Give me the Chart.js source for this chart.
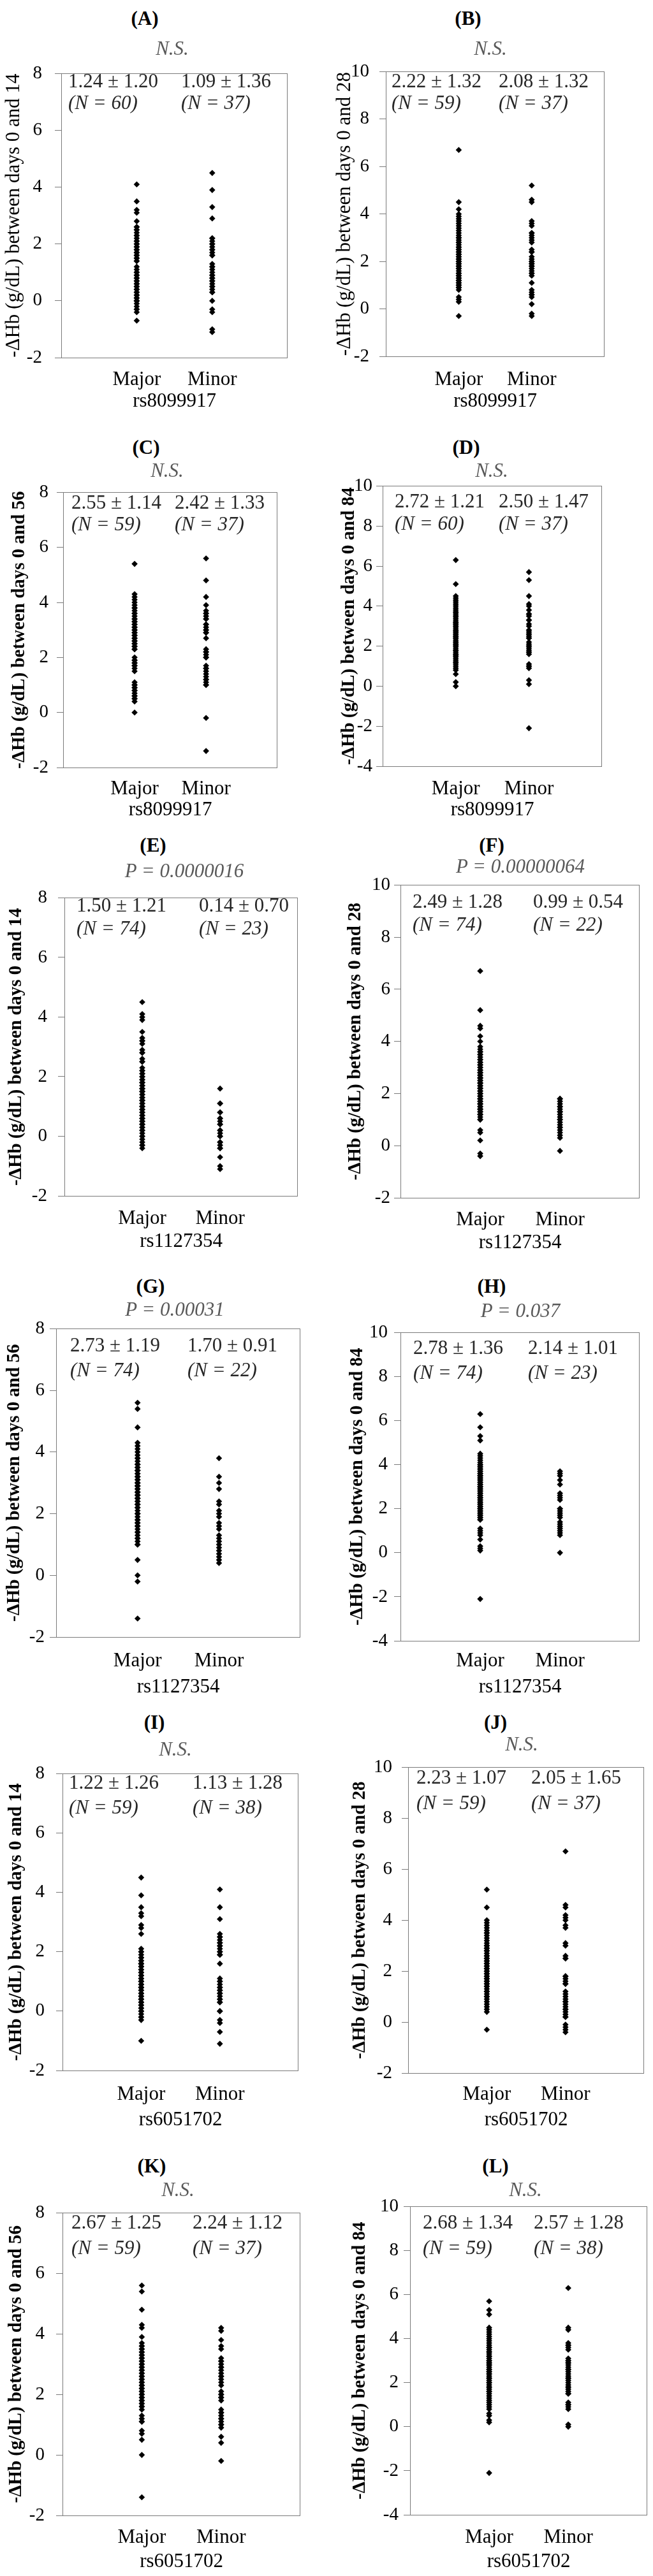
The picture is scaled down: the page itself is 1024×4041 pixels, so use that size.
<!DOCTYPE html>
<html>
<head>
<meta charset="utf-8">
<script src="https://cdn.jsdelivr.net/npm/chart.js@4.4.1/dist/chart.umd.min.js"></script>
<style>
html, body { margin: 0; padding: 0; background: #fff; }
#page { position: relative; width: 1024px; height: 4041px; overflow: hidden; font-family: "Liberation Serif", "Times New Roman", serif; }
canvas { position: absolute; }
.t { position: absolute; white-space: nowrap; font-size: 31px; line-height: 31px; color: #262626; }
.ttl { font-weight: bold; color: #000; transform: translateX(-50%); }
.sig { font-style: italic; color: #595959; transform: translateX(-50%); }
.n { font-style: italic; }
</style>
</head>
<body>
<div id="page"></div>
<script>
const FONT = '"Liberation Serif", "Times New Roman", serif';
const AXIS_COLOR = '#7a7a7a';

// ---- data ----
const GROUPS = ['Major', 'Minor'];
const PANEL_LETTERS = ['(A)', '(B)', '(C)', '(D)', '(E)', '(F)', '(G)', '(H)', '(I)', '(J)', '(K)', '(L)'];
const SNPS = ['rs8099917', 'rs8099917', 'rs8099917', 'rs8099917',
              'rs1127354', 'rs1127354', 'rs1127354', 'rs1127354',
              'rs6051702', 'rs6051702', 'rs6051702', 'rs6051702'];
const DAYS = [14, 28, 56, 84, 14, 28, 56, 84, 14, 28, 56, 84];
const SIGNIFICANCE = ['N.S.', 'N.S.', 'N.S.', 'N.S.',
                      'P = 0.0000016', 'P = 0.00000064', 'P = 0.00031', 'P = 0.037',
                      'N.S.', 'N.S.', 'N.S.', 'N.S.'];
const STATS_MAJOR = ['1.24 ± 1.20', '2.22 ± 1.32', '2.55 ± 1.14', '2.72 ± 1.21',
                     '1.50 ± 1.21', '2.49 ± 1.28', '2.73 ± 1.19', '2.78 ± 1.36',
                     '1.22 ± 1.26', '2.23 ± 1.07', '2.67 ± 1.25', '2.68 ± 1.34'];
const STATS_MINOR = ['1.09 ± 1.36', '2.08 ± 1.32', '2.42 ± 1.33', '2.50 ± 1.47',
                     '0.14 ± 0.70', '0.99 ± 0.54', '1.70 ± 0.91', '2.14 ± 1.01',
                     '1.13 ± 1.28', '2.05 ± 1.65', '2.24 ± 1.12', '2.57 ± 1.28'];
const N_MAJOR = [60, 59, 59, 60, 74, 74, 74, 74, 59, 59, 59, 59];
const N_MINOR = [37, 37, 37, 37, 23, 22, 22, 23, 38, 37, 37, 38];
const Y_MIN = [-2, -2, -2, -4, -2, -2, -2, -4, -2, -2, -2, -4];
const Y_MAX = [8, 10, 8, 10, 8, 10, 8, 10, 8, 10, 8, 10];

const A_MAJOR = [4.1, 3.5, 3.2, 3.1, 2.8, 2.6, 2.5, 2.4, 2.3, 2.2, 2.1, 2.0, 2.0, 1.9, 1.9, 1.8, 1.8, 1.7, 1.7, 1.6,
  1.5, 1.5, 1.4, 1.1, 1.0, 0.9, 0.8, 0.8, 0.7, 0.7, 0.6, 0.6, 0.5, 0.5, 0.4, 0.4, 0.3, 0.3, 0.2, 0.2,
  0.1, 0.1, 0.0, 0.0, -0.1, -0.2, -0.3, -0.4, -0.7, 2.6, 2.3, 2.1, 1.6, 1.4, 1.0, 0.9, 2.5, 1.2, 0.0, -0.3];
const A_MINOR = [4.5, 3.9, 3.3, 2.9, 2.2, 2.1, 2.0, 1.9, 1.8, 1.7, 1.6, 1.3, 1.2, 1.1, 1.0, 0.9, 0.8, 0.7, 0.6, 0.5,
  0.4, 0.3, 0.0, -0.3, -0.4, -1.0, -1.1, 2.2, 1.8, 1.2, 0.9, 0.8, 0.5, 0.3, 1.6, 2.0, 0.7];
const B_MAJOR = [6.7, 4.5, 4.2, 4.0, 3.9, 3.8, 3.7, 3.5, 3.4, 3.2, 3.1, 3.0, 2.9, 2.8, 2.7, 2.6, 2.5, 2.4, 2.3, 2.2,
  2.1, 2.0, 1.9, 1.8, 1.7, 1.6, 1.5, 1.4, 1.3, 1.2, 1.1, 1.0, 0.9, 0.8, 0.5, 0.4, 0.3, -0.3,
  3.0, 2.8, 2.5, 2.3, 2.2, 2.0, 1.9, 1.7, 1.5, 1.4, 1.2, 1.0, 3.6, 2.6, 2.1, 1.8, 1.3, 0.9, 3.3, 2.4, 1.1];
const B_MINOR = [5.2, 4.6, 4.5, 3.7, 3.6, 3.5, 3.2, 3.1, 3.0, 2.9, 2.8, 2.5, 2.4, 2.2, 2.1, 2.0, 1.9, 1.8, 1.7, 1.6,
  1.5, 1.4, 1.1, 0.8, 0.7, 0.6, 0.5, 0.2, -0.2, -0.3, 2.0, 1.8, 1.5, 2.4, 3.2, 0.6, 1.9];
const C_MAJOR = [5.4, 4.3, 4.2, 4.1, 3.9, 3.8, 3.7, 3.6, 3.5, 3.4, 3.3, 3.2, 3.1, 3.0, 2.9, 2.8, 2.7, 2.6, 2.5, 2.4,
  2.3, 2.0, 1.9, 1.8, 1.7, 1.6, 1.5, 1.1, 1.0, 0.9, 0.8, 0.7, 0.6, 0.5, 0.4, 0.0,
  3.3, 3.0, 2.8, 2.6, 2.4, 3.6, 3.2, 2.9, 2.5, 1.9, 1.8, 1.0, 0.8, 3.8, 3.4, 2.7, 0.6, 0.9, 3.1, 2.3, 1.7, 4.0, 0.5];
const C_MINOR = [5.6, 4.8, 4.2, 3.9, 3.7, 3.6, 3.5, 3.4, 3.2, 3.1, 3.0, 2.9, 2.7, 2.3, 2.2, 2.1, 2.0, 1.7, 1.6, 1.5,
  1.3, 1.2, 1.1, 1.0, -0.2, -1.4, 3.6, 3.2, 2.9, 2.2, 1.6, 1.2, 1.0, 3.4, 2.0, 1.4, 3.0];
const D_MAJOR = [6.3, 5.1, 4.5, 4.4, 4.3, 4.2, 4.1, 4.0, 3.9, 3.8, 3.7, 3.6, 3.5, 3.4, 3.3, 3.2, 3.1, 3.0, 2.9, 2.8,
  2.7, 2.6, 2.5, 2.4, 2.3, 2.2, 2.1, 2.0, 1.9, 1.8, 1.7, 1.6, 1.5, 1.4, 1.3, 1.2, 1.1, 1.0, 0.9, 0.8,
  0.6, 0.2, 0.0, 3.5, 3.2, 3.0, 2.8, 2.6, 2.4, 2.2, 2.0, 1.8, 1.6, 3.7, 3.1, 2.7, 2.5, 2.1, 1.5, 1.2];
const D_MINOR = [5.7, 5.3, 4.5, 4.1, 4.0, 3.8, 3.6, 3.5, 3.3, 3.1, 3.0, 2.8, 2.7, 2.6, 2.5, 2.4, 2.1, 2.0, 1.9, 1.8,
  1.7, 1.6, 1.1, 1.0, 0.9, 0.3, 0.1, -2.1, 3.3, 2.8, 2.6, 2.0, 1.7, 3.6, 2.4, 1.0, 2.2];
const E_MAJOR = [4.5, 4.1, 4.0, 3.9, 3.5, 3.3, 3.2, 3.1, 2.9, 2.8, 2.6, 2.5, 2.3, 2.2, 2.1, 2.0, 1.9, 1.8, 1.7, 1.6,
  1.5, 1.4, 1.3, 1.2, 1.1, 1.0, 0.9, 0.8, 0.7, 0.6, 0.5, 0.4, 0.3, 0.2, 0.1, 0.0, -0.1, -0.2, -0.3, -0.4,
  2.2, 2.0, 1.9, 1.8, 1.7, 1.6, 1.5, 1.4, 1.3, 1.2, 1.1, 1.0, 0.9, 0.8, 0.7, 0.6, 0.5, 0.4,
  2.1, 1.8, 1.5, 1.2, 0.9, 0.6, 0.3, 0.0, 2.5, 2.8, 3.2, 1.6, 1.0, 0.2, -0.3, 0.4];
const E_MINOR = [1.6, 1.1, 0.8, 0.6, 0.4, 0.2, 0.0, -0.2, -0.3, -0.4, -0.7, -1.0, -1.1,
  0.8, 0.6, 0.4, 0.2, 0.0, -0.2, -0.4, 0.1, 0.5, 1.1];
const F_MAJOR = [6.7, 5.2, 4.6, 4.5, 4.2, 4.0, 3.8, 3.7, 3.6, 3.5, 3.4, 3.3, 3.2, 3.1, 3.0, 2.9, 2.8, 2.7, 2.6, 2.5,
  2.4, 2.3, 2.2, 2.1, 2.0, 1.9, 1.8, 1.7, 1.6, 1.5, 1.4, 1.3, 1.2, 1.1, 1.0, 0.6, 0.5, 0.2, -0.3, -0.4,
  3.5, 3.3, 3.1, 3.0, 2.9, 2.8, 2.7, 2.6, 2.5, 2.4, 2.3, 2.2, 2.1, 2.0, 1.9, 1.8, 1.7, 1.6, 1.5, 1.4,
  1.3, 1.2, 3.2, 2.8, 2.4, 2.0, 1.6, 1.2, 3.6, 2.6, 2.2, 1.8, 1.4, 1.0];
const F_MINOR = [1.8, 1.7, 1.6, 1.5, 1.4, 1.3, 1.2, 1.1, 1.0, 0.9, 0.8, 0.7, 0.6, 0.5, 0.4, 0.3, -0.2,
  1.8, 1.5, 1.0, 0.7, 1.3];
const G_MAJOR = [5.6, 5.4, 4.8, 4.3, 4.2, 4.1, 4.0, 3.9, 3.8, 3.7, 3.6, 3.5, 3.4, 3.3, 3.2, 3.1, 3.0, 2.9, 2.8, 2.7,
  2.6, 2.5, 2.4, 2.3, 2.2, 2.1, 2.0, 1.9, 1.8, 1.7, 1.6, 1.5, 1.4, 1.3, 1.2, 1.1, 1.0, 0.5, 0.0, -0.2, -1.4,
  3.8, 3.6, 3.5, 3.4, 3.3, 3.2, 3.1, 3.0, 2.9, 2.8, 2.7, 2.6, 2.5, 2.4, 2.3, 2.2, 2.0, 1.8, 1.6, 1.4,
  1.2, 1.0, 3.6, 3.2, 2.9, 2.6, 2.3, 2.0, 1.7, 3.4, 3.0, 2.7, 2.5];
const G_MINOR = [3.8, 3.2, 3.0, 2.8, 2.4, 2.3, 2.1, 2.0, 1.9, 1.7, 1.6, 1.5, 1.3, 1.2, 1.1, 1.0, 0.9, 0.8, 0.7, 0.6,
  0.5, 0.4];
const H_MAJOR = [6.3, 5.7, 5.3, 5.1, 4.5, 4.4, 4.3, 4.2, 4.1, 4.0, 3.9, 3.8, 3.7, 3.6, 3.5, 3.4, 3.3, 3.2, 3.1, 3.0,
  2.9, 2.8, 2.7, 2.6, 2.5, 2.4, 2.3, 2.2, 2.1, 2.0, 1.9, 1.8, 1.7, 1.6, 1.5, 1.1, 1.0, 0.8, 0.6, 0.3,
  0.2, 0.1, -2.1, 3.9, 3.7, 3.5, 3.3, 3.1, 2.9, 2.7, 2.5, 2.3, 2.1, 1.9, 1.7, 3.8, 3.4, 3.0, 2.6, 2.2,
  1.8, 4.0, 3.6, 3.2, 2.8, 2.4, 2.0, 1.6, 3.0, 2.5, 2.0, 1.5, 0.9, 3.5];
const H_MINOR = [3.7, 3.6, 3.3, 3.1, 2.7, 2.6, 2.4, 2.0, 1.9, 1.7, 1.6, 1.4, 1.3, 1.1, 1.0, 0.9, 0.8, 0.0,
  3.5, 2.5, 1.8, 1.2, 2.0];
const I_MAJOR = [4.5, 3.9, 3.5, 3.3, 3.2, 2.9, 2.8, 2.6, 2.1, 2.0, 1.8, 1.7, 1.6, 1.5, 1.4, 1.3, 1.2, 1.1, 1.0, 0.9,
  0.8, 0.7, 0.6, 0.5, 0.4, 0.3, 0.2, 0.1, 0.0, -0.1, -0.2, -0.3, -1.0,
  1.8, 1.6, 1.4, 1.2, 1.0, 0.8, 0.6, 0.4, 0.2, 0.0, 1.7, 1.3, 0.9, 0.5, 0.1, -0.2, 1.5, 1.1, 0.7, 0.3,
  2.0, 1.9, 0.8, 0.4, 1.6, 1.0];
const I_MINOR = [4.1, 3.5, 3.1, 2.6, 2.5, 2.4, 2.3, 2.2, 2.1, 2.0, 1.9, 1.6, 1.1, 1.0, 0.9, 0.8, 0.7, 0.6, 0.5, 0.4,
  0.3, 0.0, -0.3, -0.4, -0.7, -1.1, 2.5, 2.2, 2.0, 1.9, 0.8, 0.6, 0.4, 0.3, 1.0, 0.0, 2.3, 0.7];
const J_MAJOR = [5.2, 4.5, 4.0, 3.9, 3.8, 3.7, 3.6, 3.5, 3.4, 3.3, 3.2, 3.1, 3.0, 2.9, 2.8, 2.7, 2.6, 2.5, 2.4, 2.3,
  2.2, 2.1, 2.0, 1.9, 1.8, 1.7, 1.6, 1.5, 1.4, 1.3, 1.2, 1.1, 1.0, 0.9, 0.8, 0.7, 0.6, 0.5, 0.4, -0.3,
  3.0, 2.8, 2.6, 2.4, 2.2, 2.0, 1.8, 1.6, 1.4, 1.2, 1.0, 2.5, 2.1, 1.7, 3.5, 2.9, 2.3, 1.9, 1.5];
const J_MINOR = [6.7, 4.6, 4.5, 4.2, 4.1, 4.0, 3.8, 3.7, 3.1, 3.0, 2.6, 2.5, 1.8, 1.7, 1.6, 1.5, 1.2, 1.1, 1.0, 0.9,
  0.8, 0.7, 0.6, 0.5, 0.4, 0.3, 0.2, -0.1, -0.2, -0.3, -0.4, 1.8, 1.5, 0.8, 0.5, 2.5, 0.2];
const K_MAJOR = [5.6, 5.4, 4.8, 4.3, 4.2, 3.9, 3.7, 3.6, 3.5, 3.4, 3.3, 3.2, 3.1, 3.0, 2.9, 2.8, 2.7, 2.6, 2.5, 2.4,
  2.3, 2.2, 2.1, 2.0, 1.9, 1.8, 1.7, 1.6, 1.5, 1.3, 1.1, 0.8, 0.7, 0.5, 0.0, -1.4,
  3.5, 3.3, 3.1, 2.9, 2.7, 2.5, 2.3, 2.1, 1.9, 1.7, 3.6, 3.2, 2.8, 2.4, 2.0, 1.6, 3.4, 3.0, 2.6, 2.2,
  1.8, 1.2, 1.1];
const K_MINOR = [4.2, 4.1, 3.8, 3.6, 3.5, 3.2, 3.1, 3.0, 2.9, 2.8, 2.6, 2.5, 2.4, 2.3, 2.1, 2.0, 1.9, 1.8, 1.5, 1.4,
  1.3, 1.2, 1.1, 1.0, 0.9, 0.6, 0.4, -0.2, 3.1, 2.9, 2.6, 2.0, 1.9, 1.4, 1.2, 1.0, 2.7];
const L_MAJOR = [5.7, 5.3, 5.1, 4.5, 4.4, 4.3, 4.2, 4.1, 4.0, 3.9, 3.8, 3.7, 3.6, 3.5, 3.4, 3.3, 3.2, 3.1, 3.0, 2.9,
  2.8, 2.7, 2.6, 2.5, 2.4, 2.3, 2.2, 2.1, 2.0, 1.9, 1.8, 1.7, 1.6, 1.5, 1.4, 1.3, 1.2, 1.1, 1.0, 0.9,
  0.8, 0.6, 0.5, 0.3, 0.2, -2.1, 3.6, 3.2, 2.8, 2.4, 2.0, 1.6, 3.0, 2.6, 2.2, 1.8, 3.4, 2.9, 2.5];
const L_MINOR = [6.3, 4.5, 4.4, 3.8, 3.7, 3.6, 3.5, 3.1, 3.0, 2.9, 2.8, 2.7, 2.6, 2.5, 2.4, 2.3, 2.2, 2.1, 2.0, 1.9,
  1.8, 1.7, 1.6, 1.5, 1.1, 1.0, 0.9, 0.8, 0.1, 0.0, 3.7, 3.0, 2.6, 2.2, 1.8, 1.5, 1.0, 2.9];

const MAJOR = [A_MAJOR, B_MAJOR, C_MAJOR, D_MAJOR, E_MAJOR, F_MAJOR, G_MAJOR, H_MAJOR, I_MAJOR, J_MAJOR, K_MAJOR, L_MAJOR];
const MINOR = [A_MINOR, B_MINOR, C_MINOR, D_MINOR, E_MINOR, F_MINOR, G_MINOR, H_MINOR, I_MINOR, J_MINOR, K_MINOR, L_MINOR];

// ---- layout (page pixels) ----
// plot: [left, top, right, bottom], yt: y-title centre x, tp: y tick label padding,
// title/sig: [cx, cy], st: [line1 cy, line2 cy], sx: [major x, minor x],
// d1/d2: x tick label / x title offsets below plot
const LAYOUT = [
  { plot: [96, 98, 452, 561],      yt: 21,  tp: 20, title: [227, 28],   sig: [270, 75],   st: [126, 160],   sx: [107, 284], d1: 27, d2: 68 },
  { plot: [605, 99, 949, 559],     yt: 540, tp: 16, title: [734, 28],   sig: [769, 75],   st: [126, 160],   sx: [614, 782], d1: 29, d2: 70 },
  { plot: [99, 762, 436, 1204],    yt: 31,  tp: 13, title: [229, 701],  sig: [262, 737],  st: [787, 821],   sx: [112, 274], d1: 26, d2: 66 },
  { plot: [600, 759, 945, 1202],   yt: 548, tp: 6,  title: [731, 701],  sig: [771, 737],  st: [785, 820],   sx: [619, 782], d1: 28, d2: 68 },
  { plot: [101, 1394, 468, 1876],  yt: 26,  tp: 17, title: [240, 1325], sig: [289, 1365], st: [1419, 1455], sx: [120, 312], d1: 28, d2: 71 },
  { plot: [628, 1385, 1004, 1879], yt: 558, tp: 6,  title: [771, 1325], sig: [816, 1358], st: [1413, 1449], sx: [647, 836], d1: 27, d2: 70 },
  { plot: [88, 2079, 472, 2568],   yt: 23,  tp: 8,  title: [236, 2017], sig: [274, 2053], st: [2109, 2148], sx: [110, 294], d1: 30, d2: 78 },
  { plot: [628, 2083, 1004, 2574], yt: 561, tp: 10, title: [771, 2017], sig: [816, 2055], st: [2113, 2152], sx: [648, 828], d1: 24, d2: 72 },
  { plot: [98, 2767, 469, 3248],   yt: 26,  tp: 18, title: [242, 2701], sig: [275, 2743], st: [2795, 2834], sx: [108, 302], d1: 30, d2: 77 },
  { plot: [640, 2760, 1011, 3252], yt: 565, tp: 15, title: [777, 2701], sig: [818, 2735], st: [2787, 2827], sx: [653, 833], d1: 26, d2: 73 },
  { plot: [98, 3456, 472, 3946],   yt: 26,  tp: 18, title: [238, 3397], sig: [279, 3434], st: [3485, 3525], sx: [112, 302], d1: 27, d2: 72 },
  { plot: [643, 3456, 1016, 3945], yt: 565, tp: 8,  title: [777, 3397], sig: [824, 3434], st: [3485, 3525], sx: [663, 837], d1: 28, d2: 73 }
];

const page = document.getElementById('page');

// box round the plot area
const framePlugin = {
  id: 'frame',
  beforeDatasetsDraw(chart) {
    const a = chart.chartArea;
    const ctx = chart.ctx;
    ctx.save();
    ctx.strokeStyle = AXIS_COLOR;
    ctx.lineWidth = 1;
    ctx.strokeRect(Math.round(a.left) + 0.5, Math.round(a.top) + 0.5,
                   Math.round(a.right - a.left) - 1, Math.round(a.bottom - a.top));
    ctx.restore();
  }
};

function addText(cls, text, x, cy) {
  const d = document.createElement('div');
  d.className = 't ' + cls;
  d.textContent = text;
  d.style.left = x + 'px';
  d.style.top = (cy - 15.5) + 'px';
  page.appendChild(d);
}

function makePanel(i) {
  const L = LAYOUT[i];
  const [pl, pt, pr, pb] = L.plot;
  const cLeft = L.yt - 18;
  const cTop = pt - 20;
  const axisH = L.d2 + 19;
  const w = pr + 4 - cLeft;
  const h = pb - cTop + axisH;

  const canvas = document.createElement('canvas');
  canvas.style.left = cLeft + 'px';
  canvas.style.top = cTop + 'px';
  canvas.style.width = w + 'px';
  canvas.style.height = h + 'px';
  canvas.width = w;
  canvas.height = h;
  page.appendChild(canvas);

  new Chart(canvas, {
    type: 'scatter',
    data: {
      datasets: [
        { data: MAJOR[i].map(v => ({ x: 1, y: v })) },
        { data: MINOR[i].map(v => ({ x: 2, y: v })) }
      ]
    },
    options: {
      responsive: false,
      animation: false,
      events: [],
      layout: { padding: { top: 20, right: 4, left: 0, bottom: 0 } },
      elements: {
        point: { pointStyle: 'rectRot', radius: 4.8, backgroundColor: '#000', borderWidth: 0 }
      },
      plugins: { legend: { display: false }, tooltip: { enabled: false } },
      scales: {
        x: {
          type: 'linear', min: 0, max: 3,
          grid: { display: false },
          border: { display: false },
          afterBuildTicks: s => { s.ticks = [{ value: 1 }, { value: 2 }]; },
          ticks: {
            autoSkip: false, maxRotation: 0, padding: L.d1 - 19, color: '#000',
            font: { family: FONT, size: 31 },
            callback: v => GROUPS[v - 1]
          },
          title: {
            display: true, text: SNPS[i], color: '#000',
            font: { family: FONT, size: 31 }, padding: { top: 0, bottom: 0 }
          },
          afterFit: s => { s.height = axisH; }
        },
        y: {
          min: Y_MIN[i], max: Y_MAX[i],
          grid: { display: true, drawOnChartArea: false, drawTicks: true, tickLength: 10, color: AXIS_COLOR },
          border: { display: true, color: AXIS_COLOR },
          ticks: { stepSize: 2, padding: L.tp, color: '#000', font: { family: FONT, size: 29 } },
          title: {
            display: true,
            text: '-\u0394Hb (g/dL) between days 0 and ' + DAYS[i],
            color: '#000',
            font: { family: FONT, size: i < 2 ? 31 : 29, weight: i < 2 ? 'normal' : 'bold' },
            padding: { top: 0, bottom: 0 }
          },
          afterFit: s => { s.width = pl - cLeft; }
        }
      }
    },
    plugins: [framePlugin]
  });

  addText('ttl', PANEL_LETTERS[i], L.title[0], L.title[1]);
  addText('sig', SIGNIFICANCE[i], L.sig[0], L.sig[1]);
  addText('', STATS_MAJOR[i], L.sx[0], L.st[0]);
  addText('n', '(N = ' + N_MAJOR[i] + ')', L.sx[0], L.st[1]);
  addText('', STATS_MINOR[i], L.sx[1], L.st[0]);
  addText('n', '(N = ' + N_MINOR[i] + ')', L.sx[1], L.st[1]);
}

for (let i = 0; i < LAYOUT.length; i++) makePanel(i);
</script>
</body>
</html>
